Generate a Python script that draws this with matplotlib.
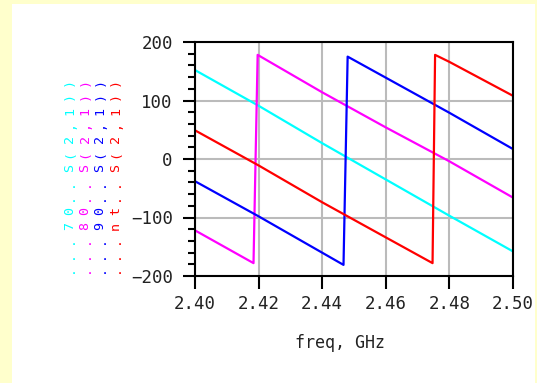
import matplotlib.pyplot as plt
from matplotlib.patches import Rectangle
from matplotlib.ticker import MultipleLocator

# =========================
# Phase of S(2,1) per case (deg)
# =========================

freq_70 = [2.400, 2.420, 2.440, 2.460, 2.480, 2.500]
phase_70 = [152, 91, 27, -35, -97, -158]

freq_80 = [2.400, 2.4184, 2.4197, 2.440, 2.460, 2.480, 2.500]
phase_80 = [-122, -178, 178, 114, 54, -4, -66]

freq_90 = [2.400, 2.420, 2.4467, 2.4480, 2.460, 2.480, 2.500]
phase_90 = [-38, -98, -181, 175, 139, 79, 17]

freq_nt = [2.400, 2.420, 2.440, 2.460, 2.4747, 2.4755, 2.480, 2.500]
phase_nt = [49, -11, -74, -134, -178, 178, 166, 108]

curves = [
    (freq_70, phase_70, "#00FFFF", "...70..S(2,1))"),
    (freq_80, phase_80, "#FF00FF", "...80..S(2,1))"),
    (freq_90, phase_90, "#0000FF", "...90..S(2,1))"),
    (freq_nt, phase_nt, "#FF0000", "...nt..S(2,1))"),
]

x_ticks = [2.40, 2.42, 2.44, 2.46, 2.48, 2.50]
y_ticks = [-200, -100, 0, 100, 200]

W, H = 537, 383
MONO = "DejaVu Sans Mono"

# =========================
# Figure + panel
# =========================

fig = plt.figure(figsize=(W / 100, H / 100), dpi=100)
fig.patch.set_facecolor("#FFFFCC")

fig.patches.append(
    Rectangle(
        (12 / W, 0), 523 / W, 1 - 4 / H,
        transform=fig.transFigure,
        facecolor="white",
        edgecolor="none",
        zorder=-5
    )
)

ax = fig.add_axes([195 / W, 1 - 276 / H, 318 / W, 234 / H])
ax.set_zorder(2)

for f, p, c, _ in curves:
    ax.plot(f, p, color=c, lw=1.6, zorder=3)

# =========================
# Axes styling
# =========================

ax.set_xlim(2.40, 2.50)
ax.set_ylim(-200, 200)

ax.set_xticks(x_ticks)
ax.set_xticklabels([f"{v:.2f}" for v in x_ticks])
ax.set_yticks(y_ticks)
ax.set_yticklabels([str(v).replace("-", "\u2212") for v in y_ticks])
ax.yaxis.set_minor_locator(MultipleLocator(20))

ax.grid(True, which="major", color="#BBBBBB", lw=1.5, zorder=1)

for s in ax.spines.values():
    s.set_linewidth(1.5)
    s.set_color("black")
    s.set_zorder(4)

ax.tick_params(axis="both", which="major", direction="out",
               length=9, width=1.5, color="black")
ax.tick_params(axis="y", which="minor", direction="out",
               length=5, width=1.5, color="black")
ax.tick_params(axis="x", pad=5)
ax.tick_params(axis="y", pad=7)

for lab in ax.get_xticklabels() + ax.get_yticklabels():
    lab.set_fontfamily(MONO)
    lab.set_fontsize(12.5)
    lab.set_color("#222222")

fig.text(340 / W, 1 - 343 / H, "freq, GHz",
         family=MONO, fontsize=12, color="#222222",
         ha="center", va="center")

# =========================
# Stacked y labels (one column per curve)
# =========================

col_x = [73, 88.5, 103.5, 119]
step = 14.4

for (f, p, c, label), x in zip(curves, col_x):
    for i, ch in enumerate(label):
        y = 269 - i * step
        fig.text(x / W, 1 - y / H, ch,
                 family=MONO, fontsize=9.5, color=c,
                 rotation=90, rotation_mode="anchor",
                 ha="center", va="baseline")

plt.savefig("out.png", dpi=100, facecolor=fig.get_facecolor())
